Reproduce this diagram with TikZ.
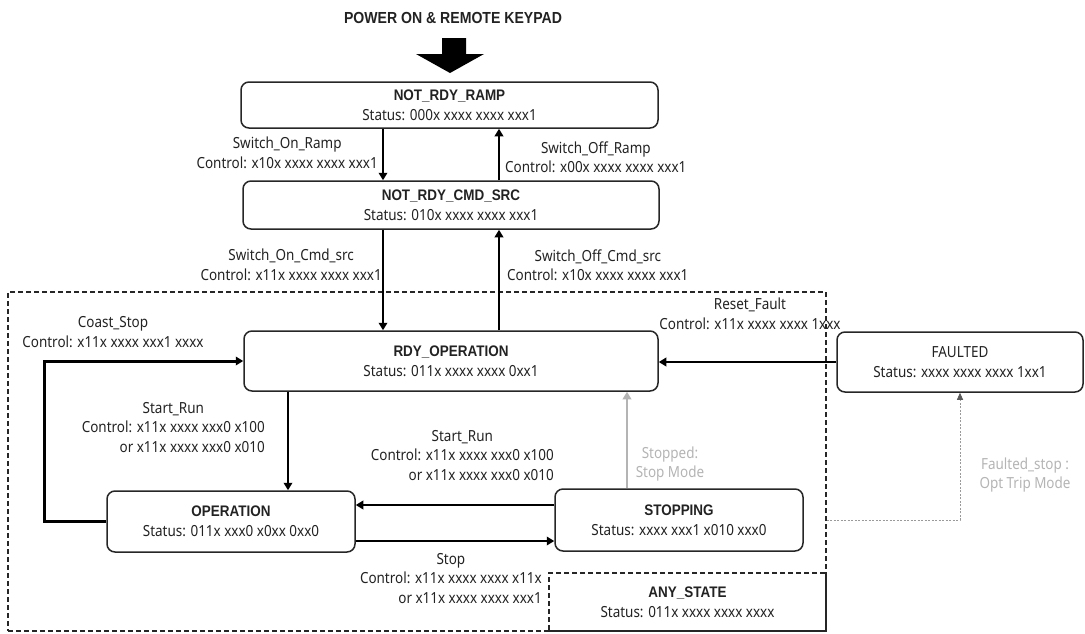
\documentclass[tikz,border=0pt]{standalone}
\usepackage{fontspec}
\setmainfont{Noto Sans}[FakeStretch=0.88, BoldFont={Liberation Sans Bold}]
\usetikzlibrary{arrows.meta,calc}
\definecolor{txt}{HTML}{222222}
\definecolor{lightg}{HTML}{B4B4B4}
\definecolor{midg}{HTML}{9A9A9A}
\begin{document}
\begin{tikzpicture}[x=1pt,y=-1pt,
  state/.style={draw=black!85, rounded corners=8pt, line width=1.5pt, align=center,
    font=\fontsize{15.3}{20}\selectfont, text=txt, inner sep=0pt},
  lbl/.style={font=\fontsize{15.3}{19.5}\selectfont, text=txt, inner sep=0pt, align=center},
  glbl/.style={lbl, text=lightg},
  arr/.style={line width=2.5pt, draw=black, -{Triangle[length=7.5pt,width=8.5pt]}},
  zonebox/.style={draw=black!85, line width=1.2pt, dash pattern=on 5pt off 3pt}
]
\useasboundingbox (0,0) rectangle (1085,633);

% title and block arrow
\node[font=\bfseries\fontsize{16}{18}\selectfont, text=txt] (title) at (453,18) {POWER ON \& REMOTE KEYPAD};
\fill[black] (442,38) -- (466,38) -- (466,54) -- (484,54) -- (450,73) -- (416,54) -- (442,54) -- cycle;

% zones
\node[zonebox, minimum width=818, minimum height=339, inner sep=0pt] (zone) at (417,461.5) {};
\node[zonebox, minimum width=277, minimum height=58, align=center, inner sep=0pt,
  font=\fontsize{15.3}{20}\selectfont, text=txt] (any) at (687.5,602)
  {\textbf{ANY\_STATE}\\Status: 011x xxxx xxxx xxxx};

% states
\node[state, minimum width=417, minimum height=46] (ramp) at (449.5,105)
  {\textbf{NOT\_RDY\_RAMP}\\Status: 000x xxxx xxxx xxx1};
\node[state, minimum width=416, minimum height=48] (cmd) at (451,205)
  {\textbf{NOT\_RDY\_CMD\_SRC}\\Status: 010x xxxx xxxx xxx1};
\node[state, minimum width=414, minimum height=60] (rdy) at (451,361)
  {\textbf{RDY\_OPERATION}\\Status: 011x xxxx xxxx 0xx1};
\node[state, minimum width=248, minimum height=61] (op) at (231,521.5)
  {\textbf{OPERATION}\\Status: 011x xxx0 x0xx 0xx0};
\node[state, minimum width=248, minimum height=62] (stopping) at (679,520)
  {\textbf{STOPPING}\\Status: xxxx xxx1 x010 xxx0};
\node[state, minimum width=246, minimum height=60] (faulted) at (960,362)
  {FAULTED\\Status: xxxx xxxx xxxx 1xx1};

% helper coordinates
\coordinate (xa) at (383,0);
\coordinate (xb) at (499,0);
\coordinate (xc) at (288,0);
\coordinate (xd) at (627,0);
\coordinate (ya) at (0,505);
\coordinate (yb) at (0,541);
\coordinate (cl) at (44,0);

% connectors
\draw[arr] (ramp.south -| xa) -- (cmd.north -| xa);
\draw[arr] (cmd.north -| xb) -- (ramp.south -| xb);
\draw[arr] (cmd.south -| xa) -- (rdy.north -| xa);
\draw[arr] (rdy.north -| xb) -- (cmd.south -| xb);
\draw[arr] (rdy.south -| xc) -- (op.north -| xc);
\draw[arr] (stopping.west |- ya) -- (op.east |- ya);
\draw[arr] (op.east |- yb) -- (stopping.west |- yb);
\draw[arr, draw=lightg, -{Triangle[length=7.5pt,width=8.5pt,color=lightg]}] (stopping.north -| xd) -- (rdy.south -| xd);
\draw[arr, line width=3pt] (op.west) -- (op.west -| cl) |- (rdy.west);
\draw[arr] (faulted.west) -- (rdy.east |- faulted.west);
\draw[draw=midg, line width=0.8pt, dash pattern=on 2pt off 1.5pt,
  -{Triangle[length=7pt,width=6pt,color=black!65]}] (zone.east |- stopping.center) -| (faulted.south);

% labels
\node[lbl, anchor=east] (l1) at (378,153) {Switch\_On\_Ramp\\Control: x10x xxxx xxxx xxx1};
\node[lbl, anchor=west] (l2) at (505,157) {Switch\_Off\_Ramp\\Control: x00x xxxx xxxx xxx1};
\node[lbl, anchor=east] (l3) at (382,265) {Switch\_On\_Cmd\_src\\Control: x11x xxxx xxxx xxx1};
\node[lbl, anchor=west] (l4) at (507,265) {Switch\_Off\_Cmd\_src\\Control: x10x xxxx xxxx xxx1};
\node[lbl] (l5) at (750,314) {Reset\_Fault\\Control: x11x xxxx xxxx 1xxx};
\node[lbl] (l6) at (113,332) {Coast\_Stop\\Control: x11x xxxx xxx1 xxxx};
\node[lbl, anchor=east] (l7) at (265,429) {\renewcommand{\arraystretch}{1}\begin{tabular}{@{}c@{}}Start\_Run\\Control: x11x xxxx xxx0 x100\\\multicolumn{1}{@{}r@{}}{or x11x xxxx xxx0 x010}\end{tabular}};
\node[lbl, anchor=east] (l8) at (554,457) {\renewcommand{\arraystretch}{1}\begin{tabular}{@{}c@{}}Start\_Run\\Control: x11x xxxx xxx0 x100\\\multicolumn{1}{@{}r@{}}{or x11x xxxx xxx0 x010}\end{tabular}};
\node[lbl, anchor=east] (l9) at (542,580) {\renewcommand{\arraystretch}{1}\begin{tabular}{@{}c@{}}Stop\\Control: x11x xxxx xxxx x11x\\\multicolumn{1}{@{}r@{}}{or x11x xxxx xxxx xxx1}\end{tabular}};
\node[glbl] (l10) at (670,464) {Stopped:\\Stop Mode};
\node[glbl] (l11) at (1025,475) {Faulted\_stop :\\Opt Trip Mode};
\end{tikzpicture}
\end{document}
